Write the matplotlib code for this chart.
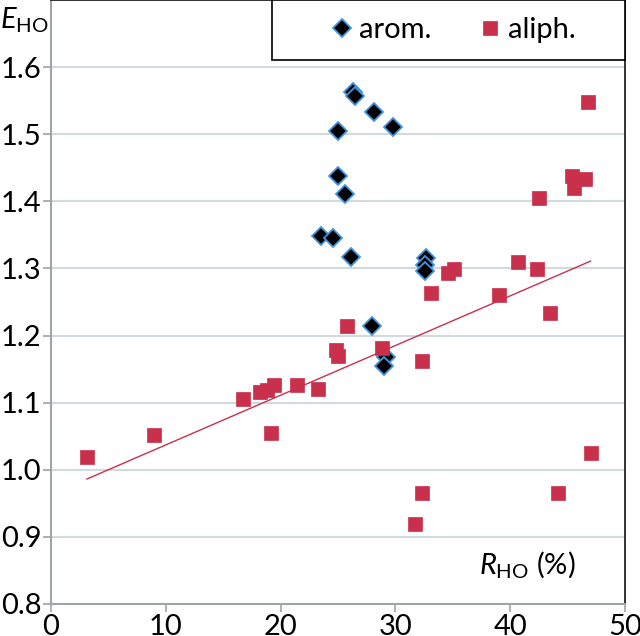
import numpy as np
import matplotlib
matplotlib.use("Agg")
import matplotlib.pyplot as plt
from matplotlib.patches import Rectangle

plt.rcParams['font.family'] = ['Lato', 'DejaVu Sans']
plt.rcParams['mathtext.fontset'] = 'custom'
plt.rcParams['mathtext.rm'] = 'Lato'
plt.rcParams['mathtext.it'] = 'Lato:italic'

# aromatic series (R_HO in %, E_HO)
arom_x = [26.35, 26.5, 28.1, 29.8, 24.96, 24.96, 25.57, 23.48, 24.6, 26.1,
          28.0, 29.2, 29.0, 32.7, 32.6, 32.6]
arom_y = [1.563, 1.557, 1.533, 1.511, 1.505, 1.438, 1.411, 1.348, 1.345, 1.317,
          1.214, 1.168, 1.155, 1.315, 1.305, 1.296]

# aliphatic series
aliph_x = [3.13, 8.96, 16.7, 18.2, 18.8, 19.4, 21.4, 23.3, 19.2, 24.8,
           24.96, 28.8, 25.8, 32.3, 33.1, 34.6, 35.1, 39.0, 40.7, 42.3,
           43.5, 46.8, 45.4, 46.5, 45.6, 42.5, 47.0, 44.2, 32.3, 31.7]
aliph_y = [1.019, 1.052, 1.105, 1.116, 1.119, 1.126, 1.126, 1.120, 1.055, 1.179,
           1.170, 1.181, 1.214, 1.162, 1.263, 1.293, 1.299, 1.260, 1.310, 1.299,
           1.234, 1.548, 1.438, 1.433, 1.420, 1.405, 1.025, 0.965, 0.965, 0.919]

red = '#c9304c'
blue_edge = '#3f95e0'
grid_col = '#d3dadd'
axis_col = '#a0a4a6'

fig = plt.figure(figsize=(6.4, 6.36), dpi=100)
ax = fig.add_axes([51 / 640, 1 - 604 / 636, 574 / 640, 604 / 636])

ax.plot(arom_x, arom_y, linestyle='none', marker='D', markersize=9.5,
        markerfacecolor='black', markeredgecolor=blue_edge, markeredgewidth=1.3,
        zorder=3, label='arom.')
ax.plot(aliph_x, aliph_y, linestyle='none', marker='s', markersize=10.5,
        markerfacecolor=red, markeredgecolor=red, markeredgewidth=0.5,
        zorder=4, label='aliph.')

# linear trend line of the aliphatic series
k, b = np.polyfit(aliph_x, aliph_y, 1)
tx = np.array([min(aliph_x), max(aliph_x)])
ax.plot(tx, k * tx + b, color=red, linewidth=1.0, zorder=5)

ax.set_xlim(0, 50)
ax.set_ylim(0.8, 1.7)
ax.set_xticks([0, 10, 20, 30, 40, 50])
ax.set_yticks(np.arange(0.8, 1.61, 0.1))
ax.set_yticklabels(['0.8', '0.9', '1.0', '1.1', '1.2', '1.3', '1.4', '1.5', '1.6'])
ax.yaxis.grid(True, color=grid_col, linewidth=1.5)
ax.set_axisbelow(True)

ax.tick_params(axis='both', labelsize=21, colors='black', direction='out',
               length=6, width=1.2, pad=1, color=axis_col)
for side in ['left', 'bottom']:
    ax.spines[side].set_color(axis_col)
    ax.spines[side].set_linewidth(1.5)
for side in ['top', 'right']:
    ax.spines[side].set_color('#222222')
    ax.spines[side].set_linewidth(1.3)

fig.text(0.0, 0.992, r'$E_{\mathrm{HO}}$', fontsize=21, ha='left', va='top')
ax.text(0.745, 0.05, r'$R_{\mathrm{HO}}$ (%)', fontsize=21, ha='left',
        va='baseline', transform=ax.transAxes)

# legend box in the top right corner
box_x, box_y, box_w, box_h = 0.385, 0.9007, 0.615, 0.0993
ax.add_patch(Rectangle((box_x, box_y), box_w, box_h, transform=ax.transAxes,
                       facecolor='white', edgecolor='black', linewidth=1.2,
                       zorder=10, clip_on=False))
leg = ax.legend(loc='center', bbox_to_anchor=(box_x + box_w / 2 + 0.01, box_y + box_h / 2),
                ncol=2, fontsize=21, frameon=False, borderaxespad=0,
                handlelength=0.6, handletextpad=0.3, columnspacing=1.7,
                borderpad=0.2)
leg.set_zorder(11)

fig.savefig('out.png', dpi=100)
